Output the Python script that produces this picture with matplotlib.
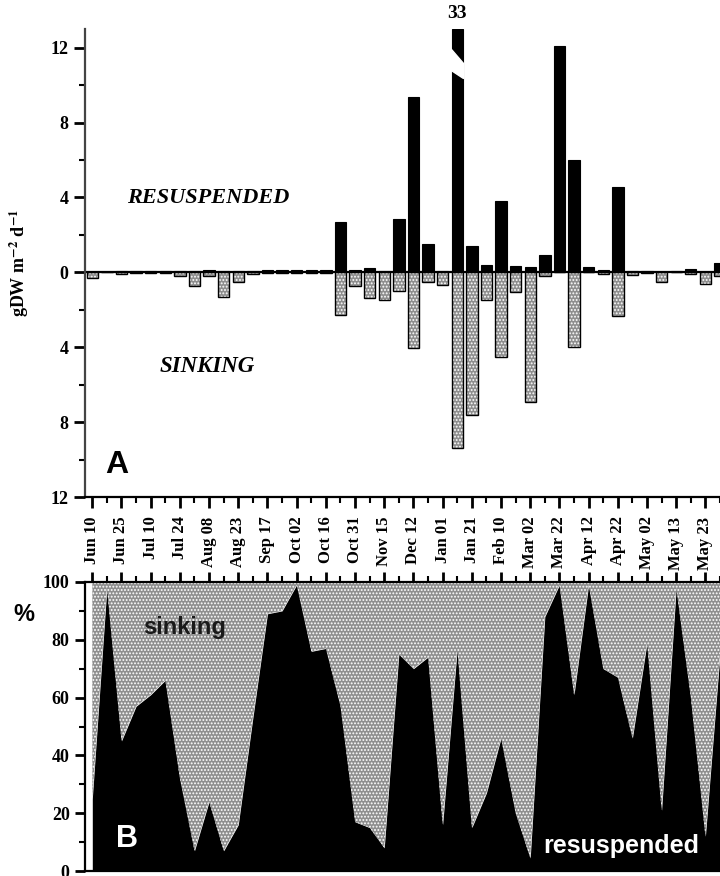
import matplotlib
matplotlib.use("Agg")
import matplotlib.pyplot as plt
from matplotlib.ticker import MultipleLocator, FuncFormatter
import numpy as np

plt.rcParams['font.family'] = ['Liberation Serif', 'DejaVu Serif']
plt.rcParams['font.weight'] = 'bold'
plt.rcParams['mathtext.fontset'] = 'stix'
plt.rcParams['hatch.linewidth'] = 0.9

# dates shown on the axis (every second sample)
date_labels = ['Jun 10', 'Jun 25', 'Jul 10', 'Jul 24', 'Aug 08', 'Aug 23',
               'Sep 17', 'Oct 02', 'Oct 16', 'Oct 31', 'Nov 15', 'Dec 12',
               'Jan 01', 'Jan 21', 'Feb 10', 'Mar 02', 'Mar 22', 'Apr 12',
               'Apr 22', 'May 02', 'May 13', 'May 23']

# panel A : gDW m-2 d-1
resuspended = [0.0, 0.0, 0.05, 0.05, 0.05, 0.05, 0.05, 0.05, 0.1, 0.05,
               0.05, 0.05, 0.12, 0.12, 0.15, 0.1, 0.1, 2.7, 0.1, 0.22,
               0.05, 2.85, 9.35, 1.5, 0.05, 33.0, 1.4, 0.4, 3.8, 0.35,
               0.3, 0.95, 12.1, 6.0, 0.28, 0.12, 4.55, 0.05, 0.05, 0.0,
               0.05, 0.2, 0.0, 0.5]
sinking = [0.3, 0.0, 0.08, 0.05, 0.05, 0.05, 0.2, 0.75, 0.2, 1.3,
           0.5, 0.1, 0.02, 0.02, 0.02, 0.02, 0.02, 2.3, 0.75, 1.35,
           1.5, 1.0, 4.05, 0.5, 0.7, 9.4, 7.6, 1.45, 4.5, 1.05,
           6.9, 0.2, 0.0, 4.0, 0.0, 0.1, 2.35, 0.15, 0.05, 0.5,
           0.0, 0.1, 0.6, 0.2]

# panel B : % resuspended
pct_resusp = [25, 98, 45, 57, 61, 66, 32, 7, 24, 7,
              16, 53, 89, 90, 99, 76, 77, 57, 17, 15,
              8, 75, 70, 74, 16, 77, 15, 27, 46, 20,
              4.5, 88, 99, 61, 99, 70, 67, 46, 79, 21,
              98, 60, 12, 75]

W, H = 720, 876
fig = plt.figure(figsize=(W / 100, H / 100), dpi=100)

x = np.arange(len(resuspended))
xmax = (720 - 92.5) / 14.6
stip_face = '#8e8e8e'

def pix_axes(l, t, r, b):
    return [l / W, 1 - b / H, (r - l) / W, (b - t) / H]

# ---------------- panel A
ax = fig.add_axes(pix_axes(85, 29, 720, 497))
ytop = 13.0
res_clip = np.minimum(resuspended, ytop)
ax.bar(x, res_clip, width=0.78, color='black', edgecolor='black', linewidth=0.8)
neg = -np.array(sinking)
ax.bar(x, neg, width=0.78, facecolor=stip_face, edgecolor='white',
       hatch='.....', linewidth=0)
ax.bar(x, neg, width=0.78, facecolor='none', edgecolor='black', linewidth=1.0)
ax.axhline(0, color='black', lw=1.6)

# break mark on the off-scale bar
ib = int(np.argmax(resuspended))
hw = 0.39 + 0.05
ax.fill([ib - hw, ib + hw, ib + hw, ib - hw],
        [11.95, 11.15, 10.35, 10.8], color='white', zorder=5)
ax.text(ib, ytop + 0.35, '%g' % resuspended[ib], ha='center', va='bottom',
        fontsize=14, fontweight='bold')

ax.set_xlim(-0.5, xmax)
ax.set_ylim(-12, ytop)
ax.spines['top'].set_visible(False)
ax.spines['right'].set_visible(False)
ax.spines['left'].set_linewidth(1.6)
ax.spines['left'].set_color('#444444')
ax.spines['bottom'].set_linewidth(1.6)

ax.yaxis.set_major_locator(MultipleLocator(4))
ax.yaxis.set_minor_locator(MultipleLocator(2))
ax.yaxis.set_major_formatter(FuncFormatter(lambda v, p: '%d' % abs(v)))
ax.set_xticks(x[::2])
ax.set_xticks(x[1::2], minor=True)
ax.set_xticklabels(date_labels, rotation=90, fontsize=12, fontweight='bold')
ax.tick_params(axis='both', which='major', length=8, width=2, direction='out')
ax.tick_params(axis='both', which='minor', length=4, width=1.5, direction='out')
ax.tick_params(axis='y', labelsize=13, pad=4)
ax.tick_params(axis='x', pad=6)
for lab in ax.get_yticklabels():
    lab.set_fontweight('bold')

ax.set_ylabel('gDW m$^{\\mathbf{-2}}$ d$^{\\mathbf{-1}}$', fontsize=13,
              fontweight='bold')
ax.yaxis.set_label_coords(-0.085, 0.5)

ax.text(0.194, 0.639, 'RESUSPENDED', transform=ax.transAxes, ha='center',
        va='center', fontsize=16, fontweight='bold', style='italic')
ax.text(0.192, 0.278, 'SINKING', transform=ax.transAxes, ha='center',
        va='center', fontsize=16.5, fontweight='bold', style='italic')
ax.text(0.050, 0.068, 'A', transform=ax.transAxes, ha='center', va='center',
        fontsize=23, fontweight='bold', family='Liberation Sans')

# ---------------- panel B
bx = fig.add_axes(pix_axes(85, 582, 720, 871))
bx.fill_between(x, 0, pct_resusp, color='black', linewidth=0)
bx.fill_between(x, pct_resusp, 100, facecolor=stip_face, edgecolor='white',
                hatch='.....', linewidth=0)
bx.set_xlim(-0.5, xmax)
bx.set_ylim(0, 100)
bx.spines['right'].set_visible(False)
for s in ['left', 'top', 'bottom']:
    bx.spines[s].set_linewidth(1.6)
bx.xaxis.tick_top()
bx.set_xticks(x[::2])
bx.set_xticks(x[1::2], minor=True)
bx.set_xticklabels([])
bx.yaxis.set_major_locator(MultipleLocator(20))
bx.yaxis.set_minor_locator(MultipleLocator(10))
bx.tick_params(axis='both', which='major', length=7, width=2, direction='out')
bx.tick_params(axis='both', which='minor', length=4, width=1.5, direction='out')
bx.tick_params(axis='y', labelsize=13, pad=4)
for lab in bx.get_yticklabels():
    lab.set_fontweight('bold')

bx.text(-0.096, 0.886, '%', transform=bx.transAxes, ha='center', va='center',
        fontsize=17, fontweight='bold', family='Liberation Sans')
bx.text(0.157, 0.841, 'sinking', transform=bx.transAxes, ha='center',
        va='center', fontsize=17, fontweight='bold', family='Liberation Sans',
        color='#1a1a1a')
bx.text(0.844, 0.087, 'resuspended', transform=bx.transAxes, ha='center',
        va='center', fontsize=18, fontweight='bold', family='Liberation Sans',
        color='white')
bx.text(0.066, 0.111, 'B', transform=bx.transAxes, ha='center', va='center',
        fontsize=22, fontweight='bold', family='Liberation Sans', color='white')

fig.savefig('out.png', dpi=100)
